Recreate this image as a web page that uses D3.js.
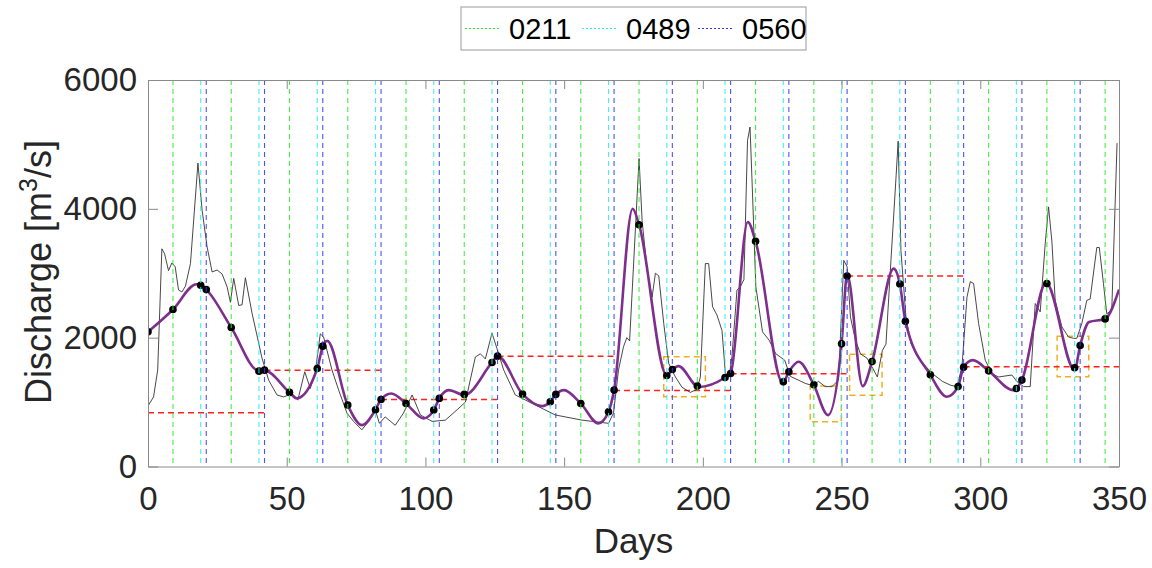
<!DOCTYPE html>
<html>
<head>
<meta charset="utf-8">
<script src="https://cdn.jsdelivr.net/npm/d3@7"></script>
<style>
  body { margin: 0; background: #fff; }
  svg { font-family: "Liberation Sans", Arial, sans-serif; }
</style>
</head>
<body>
<svg id="chart" width="1152" height="568"></svg>
<script>
var observed = [
  [0,940],[2,1080],[3.5,1500],[5,3380],[6,3300],[7.4,3040],[8.6,3160],[9.8,3100],[11,2740],[12.2,2710],
  [13.5,2800],[15.3,3150],[18,4710],[19.5,3980],[21.3,3410],[23.1,3020],[24.9,3050],[26.7,2990],[28.5,2790],
  [29.7,2550],[30.9,2920],[32.7,2500],[33.9,2510],[35.1,2930],[37.5,2380],[41.1,1680],[43.5,1340],[46.5,1110],
  [48.9,1080],[51.9,1130],[54,1030],[56.5,1470],[58.5,1210],[60.3,1470],[62.1,2060],[63.3,2010],[66.3,1500],
  [68.7,1190],[71.7,830],[74.1,700],[77.1,570],[79.5,700],[81.9,880],[83.4,670],[85.5,770],[89.1,640],
  [92.1,830],[95.2,1110],[98.2,800],[102.4,700],[107.2,720],[111.4,880],[114.4,1000],[118,1700],[119.8,1750],
  [121.6,1670],[124,2070],[125.8,1830],[128.2,1500],[132.4,1110],[138.4,980],[146.8,800],[156.4,720],[166,670],
  [167.8,830],[169.6,1500],[171.4,1860],[172.6,2000],[173.6,1950],[177,4780],[178.1,3820],[179.9,3050],
  [181.7,2630],[182.9,3000],[184.1,2960],[185.9,2220],[187.7,1600],[190.1,1390],[192.5,1230],[195.5,1150],
  [197.9,1200],[199.1,1390],[200.9,3150],[202.1,3150],[203.5,2480],[205.1,2350],[206.9,2110],[208.1,1450],
  [209.5,1400],[210.5,1710],[212.3,2740],[213.5,2790],[214.8,2900],[216.1,5060],[217,5270],[217.7,4470],
  [219.1,2790],[221.5,2090],[223.9,1960],[226.3,1750],[229.5,1650],[231.5,1400],[234.5,1340],[236.9,1290],
  [239.3,1260],[241.7,1320],[244.1,1240],[246.5,1240],[248.9,1340],[250.8,3200],[252,3100],[253.2,2320],
  [255,1960],[256.8,1750],[259.2,1680],[261.3,1520],[262.9,1390],[264.7,1800],[266,1900],[267.8,3200],
  [269.6,4470],[270.4,5050],[271.4,3350],[273.2,2320],[275,1910],[277.4,1700],[280.4,1550],[282.8,1440],
  [286.4,1320],[289.4,1260],[291.6,1240],[293.4,1550],[295.2,2630],[296.4,2870],[297.6,2840],[299.4,2220],
  [301.8,1650],[304.2,1440],[306.6,1390],[311.4,1420],[313.2,1320],[315.6,1240],[318,1240],[319.8,2530],
  [321.6,2400],[323.4,3460],[324.6,4030],[325.8,3500],[327,2580],[329.4,2170],[331.8,2010],[333.6,1990],
  [334.8,1990],[336.6,2220],[338.4,2580],[339.6,2600],[342,3400],[342.9,3400],[344.4,2840],[345.6,2370],
  [347.4,2430],[349.3,5020]
];

// smoothed (purple) curve key points
var smoothed = [
  [0,2090],[9,2437],[17.5,2830],[19,2813],[21,2746],[30,2157],[40,1485],[42,1490],[51,1150],[53.6,1060],
  [61,1522],[63,1868],[64.6,1950],[72,953],[77.1,643],[82,881],[84,1041],[87.7,1134],[93,979],[99.3,747],
  [103,876],[105,1057],[108.4,1186],[114,1110],[124,1615],[126,1713],[135,1124],[142,938],[145,1005],
  [147,1119],[149.9,1186],[156,979],[162.3,669],[166,850],[168,1186],[174.7,4002],[177,3754],[187,1413],
  [189,1506],[191.2,1558],[198.5,1235],[208,1382],[210,1444],[216.2,3795],[219,3495],[228.8,1300],[231,1470],
  [234.5,1625],[240,1268],[245.1,798],[250,1904],[252,2980],[257.6,1248],[261,1630],[268.8,3072],[271,2834],
  [273,2255],[282,1423],[288,1082],[292,1243],[294,1542],[297.3,1651],[303,1485],[311.9,1186],[313,1212],
  [315,1341],[323.7,2850],[334,1500],[336,1878],[339.2,2244],[345,2291],[350,2747]
];

// sample points (black dots)
var dotDays = [0,9,19,21,30,40,42,51,61,63,72,82,84,93,103,105,114,124,126,135,145,147,156,166,168,
  177,187,189,198,208,210,219,229,231,240,250,252,261,271,273,282,292,294,303,313,315,324,334,336,345];
var dotVals = [2090,2437,2813,2746,2157,1480,1496,1150,1522,1868,953,881,1041,979,876,1057,1119,1615,1713,
  1124,1005,1119,979,850,1186,3754,1413,1506,1248,1382,1444,3495,1314,1470,1268,1904,2958,1630,2834,2255,
  1423,1243,1542,1485,1212,1341,2839,1532,1878,2291];

// station lines
var greenDays = [9,30,51,72,93,114,135,156,177,198,219,240,261,282,303,324,345];
var cyanDays = [19,40,61,82,103,124,145,166,187,208,229,250,271,292,313,334];
var blueDays = [21,42,63,84,105,126,147,168,189,210,231,252,273,294,315,336];

// red dashed interval levels [from, to, value]
var levels = [[0,42,834],[42,84,1496],[84,126,1041],[126,168,1713],[168,210,1180],[210,252,1440],[252,294,2958],[294,350,1547]];

// orange dashed boxes [day0, day1, low, high]
var boxes = [[185.9,200.9,1082,1702],[238.7,249.9,694,1248],[252.9,264.6,1108,1744],[327.7,339.1,1392,2023]];

var legendNames = ["0211", "0489", "0560"];
var legendColors = ["#22ee22", "#22eeee", "#3333ee"];
var xTicks = [0,50,100,150,200,250,300,350];
var yTicks = [0,2000,4000,6000];

var svg = d3.select("#chart");
var m = {left: 148, right: 1119, top: 80, bottom: 466.5};

var x = d3.scaleLinear().domain([0, 350]).range([m.left, m.right]);
var y = d3.scaleLinear().domain([0, 6000]).range([m.bottom, m.top]);

svg.append("defs").append("clipPath").attr("id", "clip")
  .append("rect").attr("x", m.left).attr("y", m.top)
  .attr("width", m.right - m.left).attr("height", m.bottom - m.top);

var plot = svg.append("g").attr("clip-path", "url(#clip)");

// orange boxes
plot.selectAll("rect.box").data(boxes).enter().append("rect")
  .attr("class", "box")
  .attr("x", function(d){ return x(d[0]); })
  .attr("y", function(d){ return y(d[3]); })
  .attr("width", function(d){ return x(d[1]) - x(d[0]); })
  .attr("height", function(d){ return y(d[2]) - y(d[3]); })
  .attr("fill", "none").attr("stroke", "#EDB120").attr("stroke-width", 1.5)
  .attr("stroke-dasharray", "6,4");

// red levels
plot.selectAll("line.level").data(levels).enter().append("line")
  .attr("x1", function(d){ return x(d[0]); })
  .attr("x2", function(d){ return x(d[1]); })
  .attr("y1", function(d){ return y(d[2]); })
  .attr("y2", function(d){ return y(d[2]); })
  .attr("stroke", "#ff2020").attr("stroke-width", 1.5).attr("stroke-dasharray", "6,4");

// observed
plot.append("path").datum(observed)
  .attr("d", d3.line().x(function(d){ return x(d[0]); }).y(function(d){ return y(d[1]); }))
  .attr("fill", "none").attr("stroke", "#333").attr("stroke-width", 0.9);

// smoothed
plot.append("path").datum(smoothed)
  .attr("d", d3.line().curve(d3.curveMonotoneX)
    .x(function(d){ return x(d[0]); }).y(function(d){ return y(d[1]); }))
  .attr("fill", "none").attr("stroke", "#7E2F8E").attr("stroke-width", 2.6);

// dots
plot.selectAll("circle").data(dotDays).enter().append("circle")
  .attr("cx", function(d){ return x(d); })
  .attr("cy", function(d, i){ return y(dotVals[i]); })
  .attr("r", 3.8).attr("fill", "#000");

// vertical station lines
function vlines(days, color) {
  plot.append("g").selectAll("line").data(days).enter().append("line")
    .attr("x1", function(d){ return x(d); })
    .attr("x2", function(d){ return x(d); })
    .attr("y1", m.top).attr("y2", m.bottom)
    .attr("stroke", color).attr("stroke-width", 1.1)
    .attr("stroke-dasharray", "5,4").attr("opacity", 0.85);
}
vlines(greenDays, legendColors[0]);
vlines(cyanDays, legendColors[1]);
vlines(blueDays, legendColors[2]);

// axes
var axisColor = "#8a8a8a";
function styleAxis(g) {
  g.select(".domain").attr("stroke", axisColor).attr("stroke-width", 1);
  g.selectAll(".tick line").attr("stroke", axisColor);
  g.selectAll(".tick text").attr("fill", "#262626").attr("font-size", 33)
    .attr("font-family", "Liberation Sans, Arial, sans-serif");
}
svg.append("g").attr("transform", "translate(0," + m.bottom + ")")
  .call(d3.axisBottom(x).tickValues(xTicks).tickFormat(d3.format("d"))
    .tickSizeInner(-9).tickSizeOuter(0).tickPadding(20))
  .call(styleAxis);
svg.append("g").attr("transform", "translate(0," + m.top + ")")
  .call(d3.axisTop(x).tickValues(xTicks).tickSizeInner(-9).tickSizeOuter(0).tickFormat(""))
  .call(styleAxis);
svg.append("g").attr("transform", "translate(" + m.left + ",0)")
  .call(d3.axisLeft(y).tickValues(yTicks).tickFormat(d3.format("d"))
    .tickSizeInner(-10).tickSizeOuter(0).tickPadding(11))
  .call(styleAxis);
svg.append("g").attr("transform", "translate(" + m.right + ",0)")
  .call(d3.axisRight(y).tickValues(yTicks).tickSizeInner(-10).tickSizeOuter(0).tickFormat(""))
  .call(styleAxis);

// axis labels
svg.append("text").attr("x", (m.left + m.right) / 2).attr("y", 553)
  .attr("text-anchor", "middle").attr("font-size", 35).attr("fill", "#262626").text("Days");

var yl = svg.append("text").attr("transform", "translate(51,272) rotate(-90)")
  .attr("text-anchor", "middle").attr("font-size", 36).attr("fill", "#262626");
yl.append("tspan").text("Discharge [m");
yl.append("tspan").attr("font-size", 25).attr("dy", -14).text("3");
yl.append("tspan").attr("dy", 14).text("/s]");

// legend
var lg = svg.append("g");
lg.append("rect").attr("x", 461).attr("y", 7).attr("width", 345).attr("height", 43)
  .attr("fill", "#fff").attr("stroke", "#999").attr("stroke-width", 1);
var lx = [465, 582, 698];
legendNames.forEach(function(name, i){
  lg.append("line").attr("x1", lx[i]).attr("x2", lx[i] + 35).attr("y1", 28.5).attr("y2", 28.5)
    .attr("stroke", legendColors[i]).attr("stroke-width", 1).attr("stroke-dasharray", "2,2");
  lg.append("text").attr("x", lx[i] + 44).attr("y", 39).attr("font-size", 29)
    .attr("fill", "#000").text(name);
});
</script>
</body>
</html>
